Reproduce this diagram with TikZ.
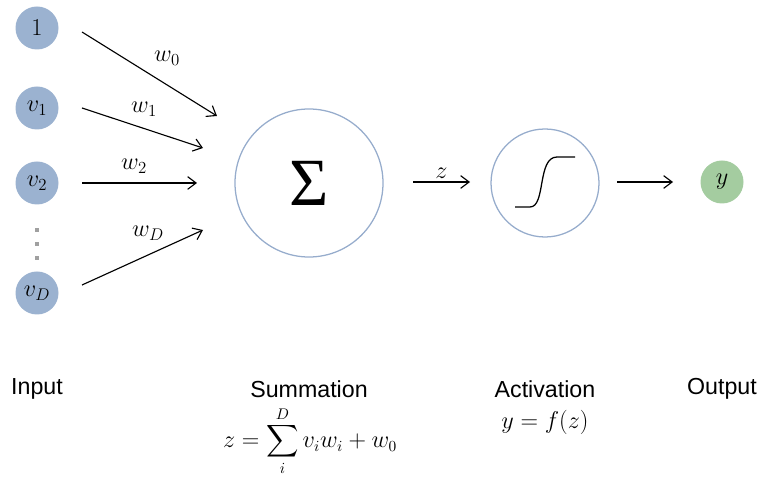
\documentclass[tikz,border=0pt]{standalone}
\usepackage{amsmath,amssymb}
\usepackage{fontspec}
\setsansfont{Liberation Sans}
\newfontfamily\greekserif{Liberation Serif}
\usepackage{xcolor}
\usepackage{tikz}
\usetikzlibrary{arrows.meta,positioning}
\definecolor{inblue}{RGB}{155,178,208}
\definecolor{ringblue}{RGB}{150,172,204}
\definecolor{outgreen}{RGB}{164,204,160}
\definecolor{dotgray}{RGB}{160,160,160}

\begin{document}
\begin{tikzpicture}[
  x=0.025cm, y=-0.025cm,
  inp/.style={circle, fill=inblue, minimum size=43*0.025cm, inner sep=0pt, font=\fontsize{17}{20}\selectfont},
  outp/.style={circle, fill=outgreen, minimum size=43*0.025cm, inner sep=0pt, font=\fontsize{17}{20}\selectfont},
  ring/.style={circle, draw=ringblue, line width=0.9pt, inner sep=0pt},
  arr/.style={-{Straight Barb[length=6pt,width=9pt]}, line width=0.8pt},
  wlab/.style={font=\fontsize{17}{20}\selectfont},
  caption/.style={font=\sffamily\fontsize{16.5}{19}\selectfont, inner sep=0pt}
]
  \useasboundingbox (0,0) rectangle (761,477);
  % --- inputs ---
  \node[inp] (one) at (37,28) {$1$};
  \node[inp] (v1) at (37,108) {$v_1$};
  \node[inp] (v2) at (37,183) {$v_2$};
  \node[inp] (vD) at (37,293) {$v_D$};
  \foreach \yy in {230,244,258}
    \fill[dotgray] (35,\yy-2) rectangle (39,\yy+2);
  % --- weights ---
  \coordinate (t0) at (82,32);  \coordinate (h0) at (217,116);
  \coordinate (t1) at (82,108); \coordinate (h1) at (203,148);
  \coordinate (t2) at (82,183); \coordinate (h2) at (197,183);
  \coordinate (tD) at (82,285); \coordinate (hD) at (203,230);
  \draw[arr] (t0) -- (h0);
  \draw[arr] (t1) -- (h1);
  \draw[arr] (t2) -- (h2);
  \draw[arr] (tD) -- (hD);
  \node[wlab] (w0) at (167,58) {$w_0$};
  \node[wlab] (w1) at (144,109) {$w_1$};
  \node[wlab] (w2) at (134,166) {$w_2$};
  \node[wlab] (wD) at (148,233) {$w_D$};
  % --- summation ---
  \node[ring, minimum size=148*0.025cm] (sum) at (309,183)
    {\greekserif\fontsize{48}{48}\selectfont Σ};
  \coordinate (zt) at (413,182); \coordinate (zh) at (470,182);
  \draw[arr] (zt) -- node[wlab, above=-1pt] (zlab) {$z$} (zh);
  % --- activation ---
  \node[ring, minimum size=108*0.025cm] (act) at (545,183) {};
  \draw[line width=0.9pt] (515,207) -- (530,207)
    .. controls (546,207) and (537,157) .. (557,157) -- (575,157);
  \coordinate (ot) at (617,182); \coordinate (oh) at (673,182);
  \draw[arr] (ot) -- (oh);
  % --- output ---
  \node[outp] (y) at (722,182) {$y$};
  % --- captions ---
  \node[caption] (cin) at (37,389) {Input};
  \node[caption] (csum) at (309,389) {Summation};
  \node[caption] (cact) at (545,389) {Activation};
  \node[caption] (cout) at (722,389) {Output};
  \node[wlab, font=\fontsize{16}{19}\selectfont, inner sep=0pt] (fsum) at (310,441) {$\displaystyle z=\sum_i^D v_i w_i + w_0$};
  \node[wlab, inner sep=0pt] (fact) at (545,422) {$y=f(z)$};
\end{tikzpicture}
\end{document}
